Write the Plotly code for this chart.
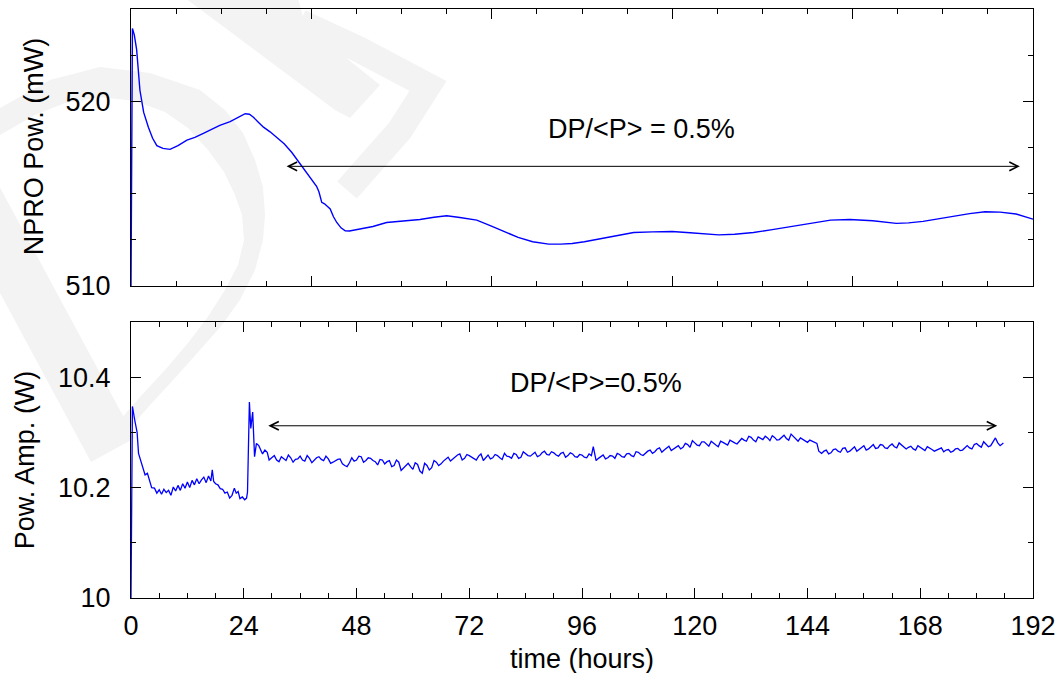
import plotly.graph_objects as go

# ---------------- data ----------------
npro_t = [0, 0.3, 0.7, 1.2, 1.9, 2.7, 3.7, 4.6, 5.5, 6.8, 8.3, 10, 11.9, 13.6, 15.4, 17, 18.9,
          21.1, 23, 24.3, 25.2, 26.0, 27, 28.2, 29.6, 31.0, 32.6, 34.2, 36.0, 37.8, 39.5, 40.0,
          40.6, 41.2, 42.4, 43.1, 43.8, 44.7, 45.6, 46.5, 48.7, 51.5, 54.4, 57.5, 61.5, 64.5,
          67.2, 70.0, 73.6, 76.6, 79.5, 82.4, 85.5, 88.9, 91.5, 93.9, 96.5, 99.6, 103, 107, 111,
          115.2, 119, 122, 125.1, 128.5, 132.5, 136.5, 140, 144, 148.9, 153, 157.9, 162.9, 165.5,
          168.6, 172, 175.2, 178.5, 181.8, 185, 188.4, 192]
npro_p = [510.0, 523.95, 523.6, 522.8, 520.6, 519.4, 518.6, 518.0, 517.6, 517.45, 517.4, 517.6,
          517.9, 518.05, 518.26, 518.45, 518.7, 518.9, 519.15, 519.33, 519.3, 519.15, 518.9,
          518.6, 518.35, 518.06, 517.7, 517.24, 516.6, 516.0, 515.4, 515.1, 514.53, 514.45,
          514.17, 513.75, 513.44, 513.15, 512.99, 512.98, 513.08, 513.22, 513.44, 513.52, 513.6,
          513.72, 513.8, 513.71, 513.57, 513.26, 512.95, 512.63, 512.4, 512.27, 512.27, 512.30,
          512.4, 512.54, 512.72, 512.9, 512.93, 512.95, 512.88, 512.82, 512.77, 512.8, 512.9,
          513.05, 513.2, 513.35, 513.57, 513.6, 513.53, 513.39, 513.42, 513.5, 513.65, 513.8,
          513.92, 514.02, 514.0, 513.9, 513.62]

amp_t = [0, 0.3, 0.8, 1.3, 1.6, 2.3, 3.0, 3.5, 4.0, 4.4, 5, 5.5, 6, 6.5, 7, 7.5, 8, 8.5, 9, 9.5,
         10, 10.5, 11, 11.5, 12, 12.5, 13, 13.5, 14, 14.5, 15, 15.5, 16, 16.5, 17, 17.3, 17.6,
         18, 18.5, 19, 19.5, 20, 20.5, 21, 21.5, 22, 22.4, 22.8, 23.2, 23.7, 24.2, 24.6, 24.8,
         25.2, 25.5, 25.9, 26.3, 26.7, 27.2, 27.6, 28, 28.5, 29, 29.4,
         30, 31, 32, 33, 34, 35, 36, 37, 38, 39, 40, 41, 42, 43, 44, 45, 46, 47, 48, 49, 50,
         51, 52, 53, 54, 55, 56, 57, 58, 59, 60, 61, 62, 63, 64, 65, 66, 67, 68, 69, 70, 71,
         72, 73, 74, 75, 76, 77, 78, 79, 80, 81, 82, 83, 84, 85, 86, 87, 88, 89, 90, 91, 92,
         93, 94, 95, 96, 97, 98, 98.4, 99, 100, 101, 102, 103, 104, 105, 106, 107, 108, 109,
         110, 111, 112, 113, 114, 115, 116, 117, 118, 119, 120, 121, 122, 123, 124, 125, 126,
         127, 128, 129, 130, 131, 132, 133, 134, 135, 136, 137, 138, 139, 140, 141, 142, 143,
         144, 145, 146, 146.4, 147, 148, 149, 150, 151, 152, 153, 154, 155, 156, 157, 158, 159,
         160, 161, 162, 163, 164, 165, 166, 167, 168, 169, 170, 171, 172, 173, 174, 175, 176,
         177, 178, 179, 180, 181, 182, 183, 184, 184.5, 185, 185.7]
amp_p = [10.000, 10.347, 10.322, 10.300, 10.262, 10.244, 10.223, 10.226, 10.212, 10.200, 10.199,
         10.190, 10.196, 10.188, 10.197, 10.191, 10.195, 10.186, 10.201, 10.194, 10.204, 10.195,
         10.207, 10.199, 10.210, 10.200, 10.213, 10.205, 10.216, 10.207, 10.214, 10.219, 10.209,
         10.221, 10.212, 10.232, 10.211, 10.207, 10.205, 10.198, 10.197, 10.190, 10.192, 10.181,
         10.186, 10.199, 10.190, 10.193, 10.180, 10.183, 10.178, 10.181, 10.192, 10.355, 10.307,
         10.337, 10.256, 10.280, 10.276, 10.268, 10.261, 10.268, 10.264, 10.250,
         10.255, 10.250, 10.256, 10.249, 10.254, 10.251, 10.257, 10.248, 10.253, 10.250, 10.256,
         10.249, 10.252, 10.246, 10.251, 10.243, 10.238, 10.254, 10.250, 10.256, 10.249, 10.253,
         10.247, 10.251, 10.243, 10.249, 10.240, 10.246, 10.236, 10.244, 10.233, 10.242, 10.226,
         10.240, 10.236, 10.246, 10.243, 10.251, 10.248, 10.256, 10.261, 10.253, 10.258, 10.252,
         10.257, 10.249, 10.259, 10.254, 10.258, 10.251, 10.257, 10.253, 10.260, 10.255, 10.262,
         10.257, 10.264, 10.258, 10.266, 10.259, 10.263, 10.257, 10.264, 10.258, 10.261, 10.255,
         10.259, 10.254, 10.258, 10.274, 10.249, 10.256, 10.252, 10.258, 10.253, 10.260, 10.255,
         10.262, 10.256, 10.264, 10.258, 10.266, 10.262, 10.270, 10.264, 10.272, 10.267, 10.274,
         10.270, 10.280, 10.273, 10.281, 10.276, 10.283, 10.275, 10.280, 10.274, 10.282, 10.277,
         10.283, 10.279, 10.289, 10.284, 10.291, 10.283, 10.289, 10.293, 10.285, 10.291, 10.287,
         10.295, 10.286, 10.292, 10.284, 10.287, 10.282, 10.284, 10.280, 10.266, 10.262, 10.268,
         10.263, 10.270, 10.264, 10.272, 10.266, 10.274, 10.269, 10.276, 10.270, 10.278, 10.272,
         10.277, 10.271, 10.279, 10.272, 10.277, 10.270, 10.275, 10.268, 10.273, 10.267, 10.272,
         10.266, 10.270, 10.265, 10.269, 10.266, 10.271, 10.268, 10.276, 10.270, 10.280, 10.273,
         10.279, 10.276, 10.290, 10.281, 10.276, 10.281]

# additional half-hour readings of the amplifier power (hours, W)
amp_half = [
    (30.5, 10.258), (31.5, 10.247), (32.5, 10.253), (33.5, 10.259), (34.5, 10.246),
    (35.5, 10.252), (36.5, 10.250), (37.5, 10.258), (38.5, 10.245), (39.5, 10.254),
    (40.5, 10.251), (41.5, 10.257), (42.5, 10.244), (43.5, 10.249), (44.5, 10.252),
    (45.5, 10.240), (46.5, 10.245), (47.5, 10.248), (48.5, 10.257), (49.5, 10.246),
    (50.5, 10.254), (51.5, 10.249), (52.5, 10.241), (53.5, 10.250), (54.5, 10.247),
    (55.5, 10.238), (56.5, 10.250), (57.5, 10.231), (58.5, 10.241), (59.5, 10.238),
    (60.5, 10.245), (61.5, 10.230), (62.5, 10.244), (63.5, 10.232), (64.5, 10.249),
    (65.5, 10.240), (66.5, 10.248), (67.5, 10.255), (68.5, 10.252), (69.5, 10.259),
    (70.5, 10.250), (71.5, 10.260), (72.5, 10.255), (73.5, 10.250), (74.5, 10.261),
    (75.5, 10.254), (76.5, 10.252), (77.5, 10.260), (78.5, 10.254), (79.5, 10.262),
    (80.5, 10.256), (81.5, 10.262), (82.5, 10.253), (83.5, 10.265), (84.5, 10.258),
    (85.5, 10.261), (86.5, 10.256), (87.5, 10.263), (88.5, 10.260), (89.5, 10.265),
    (90.5, 10.259), (91.5, 10.262), (92.5, 10.255), (93.5, 10.263), (94.5, 10.256),
    (95.5, 10.260), (96.5, 10.255), (97.5, 10.261), (99.5, 10.253), (100.5, 10.259),
    (101.5, 10.254), (102.5, 10.257), (103.5, 10.262), (104.5, 10.256), (105.5, 10.261),
    (106.5, 10.258), (107.5, 10.265), (108.5, 10.260), (109.5, 10.263), (110.5, 10.268),
    (111.5, 10.265), (112.5, 10.272), (113.5, 10.268), (114.5, 10.275), (115.5, 10.270),
    (116.5, 10.276), (117.5, 10.273), (118.5, 10.278), (119.5, 10.285), (120.5, 10.277),
    (121.5, 10.283), (122.5, 10.278), (123.5, 10.284), (124.5, 10.277), (125.5, 10.284),
    (126.5, 10.279), (127.5, 10.286), (128.5, 10.281), (129.5, 10.285), (130.5, 10.286),
    (131.5, 10.293), (132.5, 10.286), (133.5, 10.292), (134.5, 10.287), (135.5, 10.290),
    (136.5, 10.294), (137.5, 10.286), (138.5, 10.292), (139.5, 10.289), (140.5, 10.297),
    (141.5, 10.287), (142.5, 10.290), (143.5, 10.285), (144.5, 10.286), (145.5, 10.281),
    (147.5, 10.266), (148.5, 10.261), (149.5, 10.269), (150.5, 10.266), (151.5, 10.271),
    (152.5, 10.264), (153.5, 10.270), (154.5, 10.266), (155.5, 10.272), (156.5, 10.268),
    (157.5, 10.274), (158.5, 10.271), (159.5, 10.278), (160.5, 10.272), (161.5, 10.276),
    (162.5, 10.274), (163.5, 10.281), (164.5, 10.273), (165.5, 10.273), (166.5, 10.270),
    (167.5, 10.276), (168.5, 10.270), (169.5, 10.274), (170.5, 10.269), (171.5, 10.268),
    (172.5, 10.272), (173.5, 10.268), (174.5, 10.264), (175.5, 10.270), (176.5, 10.267),
    (177.5, 10.273), (178.5, 10.272), (179.5, 10.278), (180.5, 10.276), (181.5, 10.283),
    (182.5, 10.274), (183.5, 10.282),
]

time_ticks = [0, 24, 48, 72, 96, 120, 144, 168, 192]
time_labels = ["0", "24", "48", "72", "96", "120", "144", "168", "192"]
top_x_major = [0, 38.4, 76.8, 115.2, 153.6, 192]
npro_ticks = [510, 520]
npro_labels = ["510", "520"]
amp_ticks = [10.0, 10.2, 10.4]
amp_labels = ["10", "10.2", "10.4"]

# arrow / label positions (data coordinates)
top_arrow_x = [32.8, 189.2]
top_arrow_y = 516.48
top_label_x, top_label_y = 108.6, 518.5
bot_arrow_x = [28.9, 184.4]
bot_arrow_y = 10.312
bot_label_x, bot_label_y = 99.0, 10.389

# merge the half-hour readings into the amplifier series (sorted by time)
amp_pairs = sorted(list(zip(amp_t, amp_p)) + amp_half)
amp_x = [p[0] for p in amp_pairs]
amp_y = [p[1] for p in amp_pairs]

FONT = "Liberation Sans, Arial, Helvetica, sans-serif"
FS = 27
BLUE = "#0000ff"
WM = "#f3f3f3"   # faint watermark grey

W, H = 1060, 673
ML, MR, MT, MB = 131, 27, 9, 75

fig = go.Figure()
fig.add_trace(go.Scatter(x=npro_t, y=npro_p, mode="lines", xaxis="x", yaxis="y",
                         line=dict(color=BLUE, width=1.4), showlegend=False, hoverinfo="skip"))
fig.add_trace(go.Scatter(x=amp_x, y=amp_y, mode="lines", xaxis="x2", yaxis="y2",
                         line=dict(color=BLUE, width=1.3), showlegend=False, hoverinfo="skip"))

axis_common = dict(showline=True, linecolor="black", linewidth=1, mirror="ticks",
                   ticks="inside", tickcolor="black", tickwidth=1, ticklen=10,
                   showgrid=False, zeroline=False, automargin=False,
                   tickfont=dict(family=FONT, size=FS, color="black"))

fig.update_layout(
    width=W, height=H,
    margin=dict(l=ML, r=MR, t=MT, b=MB, autoexpand=False),
    paper_bgcolor="white", plot_bgcolor="rgba(0,0,0,0)",
    font=dict(family=FONT, size=FS, color="black"),
    xaxis=dict(domain=[0, 1], anchor="y", range=[0, 192], tickmode="array",
               tickvals=top_x_major, showticklabels=False,
               minor=dict(ticks="inside", ticklen=5, tickcolor="black", tickmode="linear",
                          tick0=0, dtick=9.6, showgrid=False),
               **axis_common),
    yaxis=dict(domain=[0.5297, 1], anchor="x", range=[510, 525], tickmode="array",
               tickvals=npro_ticks, ticktext=npro_labels, ticklabelstandoff=14,
               minor=dict(ticks="inside", ticklen=5, tickcolor="black", tickmode="linear",
                          tick0=510, dtick=2.5, showgrid=False),
               **axis_common),
    xaxis2=dict(domain=[0, 1], anchor="y2", range=[0, 192], tickmode="array",
                tickvals=time_ticks, ticktext=time_labels, ticklabelstandoff=4,
                minor=dict(ticks="inside", ticklen=5, tickcolor="black", tickmode="linear",
                           tick0=0, dtick=6, showgrid=False),
                **axis_common),
    yaxis2=dict(domain=[0, 0.4686], anchor="x2", range=[10, 10.5], tickmode="array",
                tickvals=amp_ticks, ticktext=amp_labels, ticklabelstandoff=14,
                minor=dict(ticks="inside", ticklen=5, tickcolor="black", tickmode="linear",
                           tick0=10, dtick=0.1, showgrid=False),
                **axis_common),
)

annotations = [
    dict(text="NPRO Pow. (mW)", xref="paper", yref="paper", x=-0.1075, y=0.767,
         textangle=-90, showarrow=False, xanchor="center", yanchor="middle",
         font=dict(family=FONT, size=FS, color="black")),
    dict(text="Pow. Amp. (W)", xref="paper", yref="paper", x=-0.1175, y=0.234,
         textangle=-90, showarrow=False, xanchor="center", yanchor="middle",
         font=dict(family=FONT, size=FS, color="black")),
    dict(text="time (hours)", xref="paper", yref="paper", x=0.5, y=-0.1036,
         showarrow=False, xanchor="center", yanchor="middle",
         font=dict(family=FONT, size=FS, color="black")),
    dict(text="DP/&lt;P&gt; = 0.5%", xref="x", yref="y", x=top_label_x, y=top_label_y,
         showarrow=False, xanchor="center", yanchor="middle",
         font=dict(family=FONT, size=FS, color="black")),
    dict(text="DP/&lt;P&gt;=0.5%", xref="x2", yref="y2", x=bot_label_x, y=bot_label_y,
         showarrow=False, xanchor="center", yanchor="middle",
         font=dict(family=FONT, size=FS, color="black")),
    dict(text="", xref="x", yref="y", axref="x", ayref="y",
         x=top_arrow_x[1], y=top_arrow_y, ax=top_arrow_x[0], ay=top_arrow_y,
         showarrow=True, arrowside="end+start", arrowhead=5, startarrowhead=5,
         arrowsize=1.7, startarrowsize=1.7, arrowwidth=1, arrowcolor="black",
         standoff=0, startstandoff=0),
    dict(text="", xref="x2", yref="y2", axref="x2", ayref="y2",
         x=bot_arrow_x[1], y=bot_arrow_y, ax=bot_arrow_x[0], ay=bot_arrow_y,
         showarrow=True, arrowside="end+start", arrowhead=5, startarrowhead=5,
         arrowsize=1.7, startarrowsize=1.7, arrowwidth=1, arrowcolor="black",
         standoff=0, startstandoff=0),
]
fig.update_layout(annotations=annotations)

# ---------------- faint background watermark (decoration, page pixels) ----------------
PW, PH = W - ML - MR, H - MT - MB


def to_paper(pt):
    return ((pt[0] - ML) / PW, (H - MB - pt[1]) / PH)


def poly_path(points, close=True):
    pp = [to_paper(p) for p in points]
    s = "M {:.4f},{:.4f} ".format(*pp[0]) + " ".join("L {:.4f},{:.4f}".format(*p) for p in pp[1:])
    return s + (" Z" if close else "")


wm_stem = [(-62, 178), (-18, 154), (135, 438), (91, 462)]
wm_bowl = [(-40, 122), (0, 108), (50, 80), (100, 67), (150, 73), (200, 90), (225, 110),
           (243, 133), (255, 160), (263, 187), (265, 215), (263, 240), (255, 270), (240, 300),
           (222, 325), (200, 350), (175, 378), (150, 405), (130, 428), (118, 447),
           (106, 440), (120, 420), (140, 397), (165, 370), (188, 343), (207, 318), (225, 290),
           (238, 265), (244, 240), (242, 215), (235, 195), (224, 172), (208, 150), (188, 128),
           (165, 112), (135, 101), (100, 97), (65, 103), (35, 115), (0, 135), (-40, 158)]
wm_bandA = [(185, -2), (298, -2), (305, 25), (380, 85), (350, 118), (335, 110)]
wm_bandB = [(300, 22), (360, 50), (428, 86), (400, 130), (347, 190)]

shapes = [
    dict(type="path", xref="paper", yref="paper", layer="below", path=poly_path(wm_stem),
         fillcolor=WM, line=dict(width=0)),
    dict(type="path", xref="paper", yref="paper", layer="below", path=poly_path(wm_bowl),
         fillcolor=WM, line=dict(width=0)),
    dict(type="path", xref="paper", yref="paper", layer="below", path=poly_path(wm_bandA),
         fillcolor=WM, line=dict(width=0)),
    dict(type="path", xref="paper", yref="paper", layer="below",
         path=poly_path(wm_bandB, close=False), line=dict(width=26, color=WM)),
]
fig.update_layout(shapes=shapes, hovermode=False, dragmode=False)

fig.write_html("out.html", config={"displayModeBar": False, "staticPlot": True},
               post_script="document.body.style.margin='0px';")
